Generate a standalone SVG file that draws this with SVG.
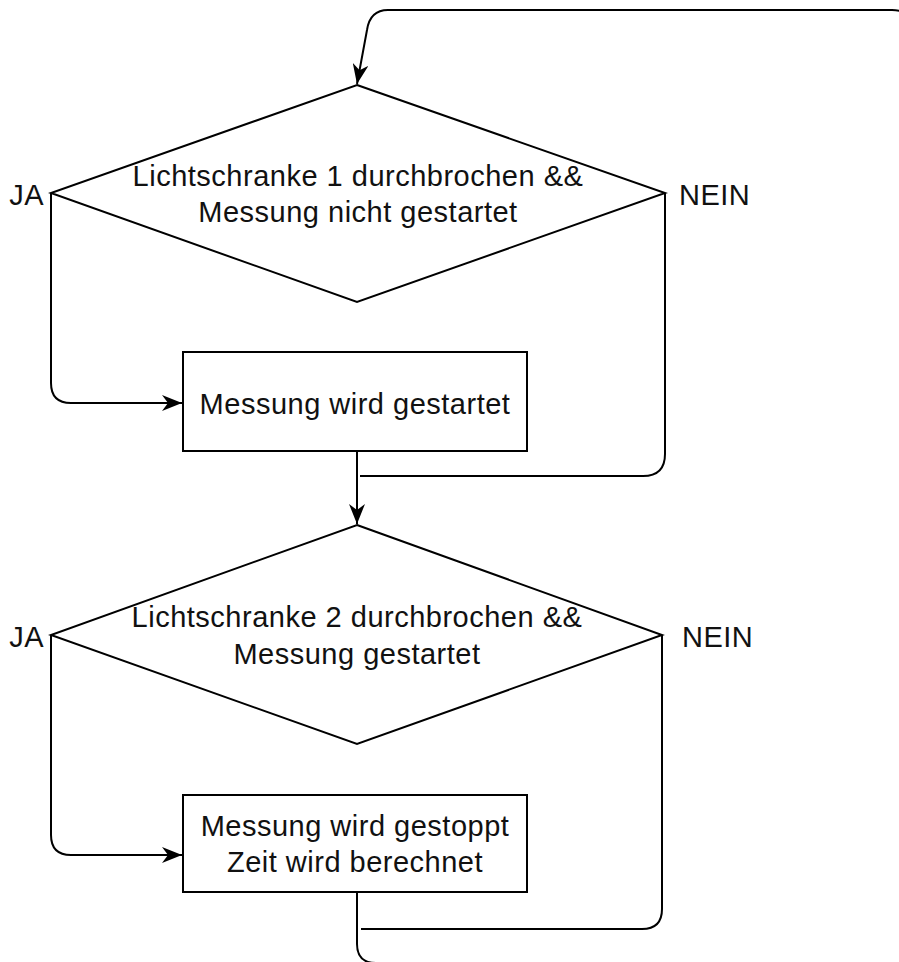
<svg xmlns="http://www.w3.org/2000/svg" width="899" height="962" viewBox="0 0 899 962">
<style>
  .shape { fill: #ffffff; stroke: #000000; stroke-width: 2; }
  .edge { fill: none; stroke: #000000; stroke-width: 2; }
  .lbl { font-family: "Liberation Sans", Arial, Helvetica, sans-serif; font-size: 29px; letter-spacing: 0.5px; fill: #111111; }
  .c { text-anchor: middle; }
  .r { text-anchor: end; }
</style>
<defs>
  <marker id="arrow" viewBox="0 0 20 16" refX="20" refY="8" markerWidth="20" markerHeight="16" markerUnits="userSpaceOnUse" orient="auto">
    <path d="M0,0 L20,8 L0,16 L6,8 Z" fill="#000000"/>
  </marker>
</defs>
<rect x="0" y="0" width="899" height="962" fill="#ffffff"/>

<g id="connectors">
  <path class="edge" d="M51,193 L51,383 Q51,403 71,403 L182,403" marker-end="url(#arrow)"/>
  <path class="edge" d="M665,193 L665,454 Q665,476 643,476 L360,476"/>
  <path class="edge" d="M357,452 L357,524" marker-end="url(#arrow)"/>
  <path class="edge" d="M51,635 L51,835 Q51,855 71,855 L182,855" marker-end="url(#arrow)"/>
  <path class="edge" d="M662,635 L662,909 Q662,929 642,929 L361,929"/>
  <path class="edge" d="M357,892 L357,944 Q357,963 376,963 L914,963 L914,32 Q914,10 892,10 L388,10 Q370,10 367,30 L357,84" marker-end="url(#arrow)"/>
</g>

<g id="decision1">
  <polygon class="shape" points="357,85 665,193 357,302 51,193"/>
  <text class="lbl c" x="358" y="186">Lichtschranke 1 durchbrochen &amp;&amp;</text>
  <text class="lbl c" x="358" y="222">Messung nicht gestartet</text>
</g>
<g id="label-ja1"><text class="lbl r" x="44" y="205">JA</text></g>
<g id="label-nein1"><text class="lbl" x="679" y="205">NEIN</text></g>

<g id="start-measure">
  <rect class="shape" x="183" y="352" width="344" height="99"/>
  <text class="lbl c" x="355" y="414">Messung wird gestartet</text>
</g>

<g id="decision2">
  <polygon class="shape" points="357,525 662,635 357,744 51,635"/>
  <text class="lbl c" x="357" y="627">Lichtschranke 2 durchbrochen &amp;&amp;</text>
  <text class="lbl c" x="357" y="664">Messung gestartet</text>
</g>
<g id="label-ja2"><text class="lbl r" x="44" y="647">JA</text></g>
<g id="label-nein2"><text class="lbl" x="682" y="647">NEIN</text></g>

<g id="stop-measure">
  <rect class="shape" x="183" y="795" width="344" height="97"/>
  <text class="lbl c" x="355" y="836">Messung wird gestoppt</text>
  <text class="lbl c" x="355" y="872">Zeit wird berechnet</text>
</g>
</svg>
